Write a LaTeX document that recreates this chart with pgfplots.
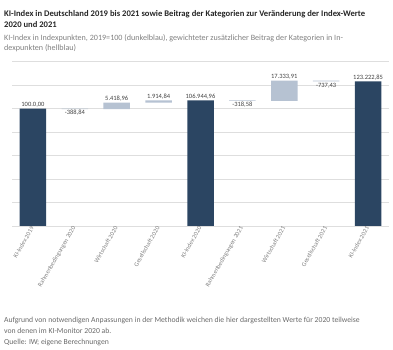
\documentclass[border=0pt]{standalone}
\usepackage{fontspec}
\setmainfont{Carlito}
\usepackage{pgfplots}
\usepackage{pgfplotstable}
\pgfplotsset{compat=1.18}
\definecolor{darkb}{HTML}{2B4562}
\definecolor{lightb}{HTML}{B6C2D2}
\definecolor{gridc}{HTML}{DEDEDE}
\definecolor{txt}{HTML}{404040}
\definecolor{subc}{HTML}{808080}
\definecolor{titc}{HTML}{262626}
\definecolor{footc}{HTML}{6A6A6A}

% waterfall bars: invisible base, dark totals, light contributions
\pgfplotstableread{
x base dark light
0 0 100 0
1 99.611 0 0.389
2 99.611 0 5.419
3 105.030 0 1.915
4 0 106.945 0
5 106.626 0 0.319
6 106.626 0 17.334
7 123.223 0 0.737
8 0 123.223 0
}\bars
% labels above bars
\pgfplotstableread{
x y lab
0 100 {100.0,00}
2 105.030 {5.418,96}
3 106.945 {1.914,84}
4 106.945 {106.944,96}
6 123.960 {17.333,91}
8 123.223 {123.222,85}
}\labup
% labels below bars (negative contributions)
\pgfplotstableread{
x y lab
1 99.611 {-388,84}
5 106.626 {-318,58}
7 123.223 {-737,43}
}\labdown

\begin{document}
\begin{tikzpicture}
\path[use as bounding box] (0,0) rectangle (393bp,350bp);
\node[anchor=base west, inner sep=0, font=\fontsize{8.6bp}{10bp}\selectfont\bfseries, text=titc] at (4bp,333.5bp) {KI-Index in Deutschland 2019 bis 2021 sowie Beitrag der Kategorien zur Veränderung der Index-Werte};
\node[anchor=base west, inner sep=0, font=\fontsize{8.6bp}{10bp}\selectfont\bfseries, text=titc] at (4bp,322.5bp) {2020 und 2021};
\node[anchor=base west, inner sep=0, font=\fontsize{8.1bp}{9bp}\selectfont, text=subc] at (4bp,309.5bp) {KI-Index in Indexpunkten, 2019=100 (dunkelblau), gewichteter zusätzlicher Beitrag der Kategorien in In-};
\node[anchor=base west, inner sep=0, font=\fontsize{8.1bp}{9bp}\selectfont, text=subc] at (4bp,299.5bp) {dexpunkten (hellblau)};
\node[anchor=base west, inner sep=0, font=\fontsize{7.7bp}{9bp}\selectfont, text=footc] at (4bp,27.5bp) {Aufgrund von notwendigen Anpassungen in der Methodik weichen die hier dargestellten Werte für 2020 teilweise};
\node[anchor=base west, inner sep=0, font=\fontsize{7.7bp}{9bp}\selectfont, text=footc] at (4bp,16.5bp) {von denen im KI-Monitor 2020 ab.};
\node[anchor=base west, inner sep=0, font=\fontsize{7.7bp}{9bp}\selectfont, text=footc] at (4bp,5.7bp) {Quelle: IW; eigene Berechnungen};
\begin{axis}[
  at={(12bp,124bp)}, anchor=south west,
  scale only axis, width=377bp, height=164.3bp,
  xmin=-0.5, xmax=8.5, ymin=0, ymax=140,
  ybar stacked, bar width=26.5bp,
  axis line style={draw=none},
  ymajorgrids, major grid style={gridc, line width=0.7bp},
  ytick={0,20,...,140}, yticklabels={},
  major tick length=0,
  xtick={0,...,8},
  xticklabels={KI-Index 2019, Rahmenbedingungen 2020, Wirtschaft 2020, Gesellschaft 2020, KI-Index 2020, Rahmenbedingungen 2021, Wirtschaft 2021, Gesellschaft 2021, KI-Index 2021},
  xticklabel style={rotate=60, anchor=east, font=\fontsize{6.3bp}{7bp}\selectfont, text=subc, inner sep=1bp},
  clip=false,
]
\addplot[fill=none, draw=none] table[x=x, y=base] \bars;
\addplot[fill=darkb, draw=none] table[x=x, y=dark] \bars;
\addplot[fill=lightb, draw=none] table[x=x, y=light] \bars;
\end{axis}
\begin{axis}[
  at={(12bp,124bp)}, anchor=south west,
  scale only axis, width=377bp, height=164.3bp,
  xmin=-0.5, xmax=8.5, ymin=0, ymax=140,
  hide axis, clip=false,
  every node near coord/.append style={font=\fontsize{6.5bp}{7bp}\selectfont, text=txt, inner sep=1.2bp},
]
\addplot[draw=none, mark=none, nodes near coords, point meta=explicit symbolic,
  every node near coord/.append style={anchor=south}] table[x=x, y=y, meta=lab] \labup;
\addplot[draw=none, mark=none, nodes near coords, point meta=explicit symbolic,
  every node near coord/.append style={anchor=north}] table[x=x, y=y, meta=lab] \labdown;
\end{axis}
\end{tikzpicture}
\end{document}
